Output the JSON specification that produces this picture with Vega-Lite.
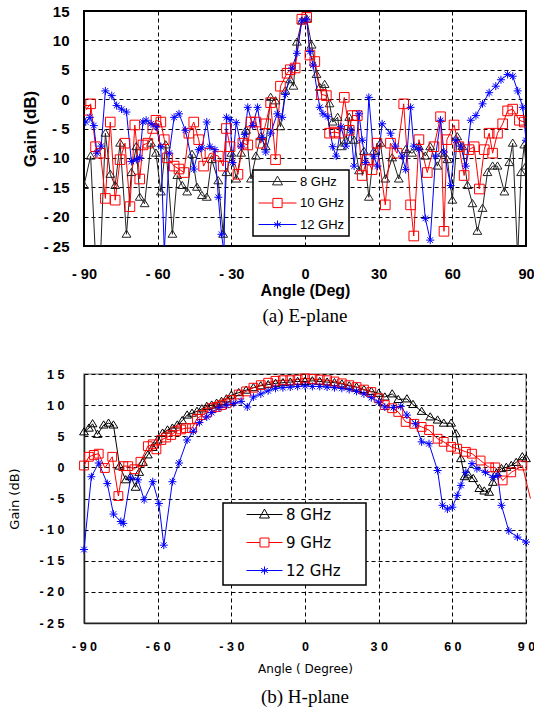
{
"$schema": "https://vega.github.io/schema/vega-lite/v6.json",
"background": "white",
"padding": {"left": 8, "top": 3, "right": 0, "bottom": 2},
"spacing": 40,
"resolve": {"scale": {"color": "independent"}, "legend": {"color": "independent"}},
"config": {
  "font": "Liberation Sans",
  "axis": {"ticks": false, "domain": false, "grid": true, "gridColor": "#000", "gridOpacity": 1, "gridDash": [4, 3], "gridWidth": 1, "labelColor": "#000", "titleColor": "#000", "labelOverlap": false, "labelFlush": false, "labelBound": false}
},
"datasets": {
"e": [
{"series":"8 GHz","angle":-90,"gain":-14.7},{"series":"8 GHz","angle":-87.3,"gain":-9.7},{"series":"8 GHz","angle":-85.3,"gain":-27},{"series":"8 GHz","angle":-83.3,"gain":-27},{"series":"8 GHz","angle":-81.3,"gain":-5.8},{"series":"8 GHz","angle":-79.3,"gain":-12.8},{"series":"8 GHz","angle":-77.3,"gain":-14.7},{"series":"8 GHz","angle":-75.3,"gain":-7.5},{"series":"8 GHz","angle":-72.7,"gain":-23},{"series":"8 GHz","angle":-70.7,"gain":-12.5},{"series":"8 GHz","angle":-68.7,"gain":-8.1},{"series":"8 GHz","angle":-67.3,"gain":-16.7},{"series":"8 GHz","angle":-65.3,"gain":-17.8},{"series":"8 GHz","angle":-62.7,"gain":-7.5},{"series":"8 GHz","angle":-60.7,"gain":-9.2},{"series":"8 GHz","angle":-58.7,"gain":-15.8},{"series":"8 GHz","angle":-56.7,"gain":-7.8},{"series":"8 GHz","angle":-54,"gain":-23},{"series":"8 GHz","angle":-52,"gain":-13},{"series":"8 GHz","angle":-50,"gain":-14.7},{"series":"8 GHz","angle":-48,"gain":-15.8},{"series":"8 GHz","angle":-46,"gain":-9.4},{"series":"8 GHz","angle":-44,"gain":-15},{"series":"8 GHz","angle":-42,"gain":-16.4},{"series":"8 GHz","angle":-40,"gain":-16.7},{"series":"8 GHz","angle":-38,"gain":-10.3},{"series":"8 GHz","angle":-35.3,"gain":-13.9},{"series":"8 GHz","angle":-33.3,"gain":-23},{"series":"8 GHz","angle":-32,"gain":-12.5},
{"series":"8 GHz","angle":-30,"gain":-9.2},{"series":"8 GHz","angle":-28,"gain":-13.6},{"series":"8 GHz","angle":-26,"gain":-9.2},{"series":"8 GHz","angle":-24,"gain":-5.3},{"series":"8 GHz","angle":-22,"gain":-13.6},{"series":"8 GHz","angle":-20,"gain":-9.7},{"series":"8 GHz","angle":-18,"gain":-6.4},{"series":"8 GHz","angle":-16,"gain":-8.1},{"series":"8 GHz","angle":-14,"gain":0.3},{"series":"8 GHz","angle":-12,"gain":-0.3},{"series":"8 GHz","angle":-10,"gain":-4.7},{"series":"8 GHz","angle":-8,"gain":1.4},{"series":"8 GHz","angle":-6,"gain":3.3},{"series":"8 GHz","angle":-4.7,"gain":2.2},{"series":"8 GHz","angle":-3.3,"gain":9.7},{"series":"8 GHz","angle":-1.3,"gain":13.3},{"series":"8 GHz","angle":0.7,"gain":13.6},{"series":"8 GHz","angle":2.7,"gain":9.2},{"series":"8 GHz","angle":4.7,"gain":4.2},{"series":"8 GHz","angle":6,"gain":2},{"series":"8 GHz","angle":8,"gain":2.5},{"series":"8 GHz","angle":10,"gain":-0.8},{"series":"8 GHz","angle":11.3,"gain":-3.9},{"series":"8 GHz","angle":13.3,"gain":-3.1},{"series":"8 GHz","angle":14.7,"gain":-8.1},{"series":"8 GHz","angle":16.7,"gain":-7},{"series":"8 GHz","angle":18,"gain":-3.1},{"series":"8 GHz","angle":20,"gain":-7},{"series":"8 GHz","angle":22,"gain":-12.2},{"series":"8 GHz","angle":24,"gain":-8.9},{"series":"8 GHz","angle":26,"gain":-16.7},{"series":"8 GHz","angle":28,"gain":-8.9},
{"series":"8 GHz","angle":30.7,"gain":-7.5},{"series":"8 GHz","angle":32.7,"gain":-13.6},{"series":"8 GHz","angle":35.5,"gain":-10},{"series":"8 GHz","angle":38.2,"gain":-13.6},{"series":"8 GHz","angle":41,"gain":-8.6},{"series":"8 GHz","angle":43.6,"gain":-9.2},{"series":"8 GHz","angle":46.4,"gain":-8.1},{"series":"8 GHz","angle":49,"gain":-9.7},{"series":"8 GHz","angle":51,"gain":-8.1},{"series":"8 GHz","angle":53.9,"gain":-11.4},{"series":"8 GHz","angle":55.9,"gain":-9.2},{"series":"8 GHz","angle":58,"gain":-10.3},{"series":"8 GHz","angle":60,"gain":-17.2},{"series":"8 GHz","angle":62,"gain":-6.4},{"series":"8 GHz","angle":64.1,"gain":-8.1},{"series":"8 GHz","angle":66.2,"gain":-14.7},{"series":"8 GHz","angle":68.2,"gain":-17.8},{"series":"8 GHz","angle":70.2,"gain":-22.5},{"series":"8 GHz","angle":72.3,"gain":-18.6},{"series":"8 GHz","angle":74.3,"gain":-12.5},{"series":"8 GHz","angle":76.4,"gain":-11.4},{"series":"8 GHz","angle":78.4,"gain":-11.4},{"series":"8 GHz","angle":81.2,"gain":-15.8},{"series":"8 GHz","angle":83.2,"gain":-10.8},{"series":"8 GHz","angle":84.6,"gain":-7.5},{"series":"8 GHz","angle":86.6,"gain":-27},{"series":"8 GHz","angle":88,"gain":-12.5},{"series":"8 GHz","angle":89.3,"gain":-7.8},{"series":"8 GHz","angle":90,"gain":-11.4},
{"series":"10 GHz","angle":-89.3,"gain":-1.9},{"series":"10 GHz","angle":-87.3,"gain":-0.8},{"series":"10 GHz","angle":-85.3,"gain":-8.1},{"series":"10 GHz","angle":-83.3,"gain":-9.2},{"series":"10 GHz","angle":-81.3,"gain":-16.9},{"series":"10 GHz","angle":-79.3,"gain":-3.9},{"series":"10 GHz","angle":-77.3,"gain":-17.2},{"series":"10 GHz","angle":-75.3,"gain":-10.3},{"series":"10 GHz","angle":-73.3,"gain":-7.5},{"series":"10 GHz","angle":-71.3,"gain":-18.3},{"series":"10 GHz","angle":-69.3,"gain":-4.4},{"series":"10 GHz","angle":-67.3,"gain":-13.6},{"series":"10 GHz","angle":-66,"gain":-7.8},{"series":"10 GHz","angle":-64,"gain":-7.5},{"series":"10 GHz","angle":-62,"gain":-5},{"series":"10 GHz","angle":-60.7,"gain":-3.6},{"series":"10 GHz","angle":-58.7,"gain":-3.9},{"series":"10 GHz","angle":-57.3,"gain":-6.9},{"series":"10 GHz","angle":-56,"gain":-10},{"series":"10 GHz","angle":-53.3,"gain":-11.4},{"series":"10 GHz","angle":-51.3,"gain":-11.9},{"series":"10 GHz","angle":-49.3,"gain":-12.5},{"series":"10 GHz","angle":-47.3,"gain":-5.8},{"series":"10 GHz","angle":-45.3,"gain":-3.9},{"series":"10 GHz","angle":-43.3,"gain":-6.9},{"series":"10 GHz","angle":-41.3,"gain":-11.4},{"series":"10 GHz","angle":-38.7,"gain":-9.2},{"series":"10 GHz","angle":-35.3,"gain":-9.7},{"series":"10 GHz","angle":-33.3,"gain":-11.4},{"series":"10 GHz","angle":-32,"gain":-5},
{"series":"10 GHz","angle":-30.5,"gain":-8.1},{"series":"10 GHz","angle":-27.3,"gain":-12.8},{"series":"10 GHz","angle":-25.3,"gain":-7.5},{"series":"10 GHz","angle":-23.3,"gain":-7.8},{"series":"10 GHz","angle":-22,"gain":-3.9},{"series":"10 GHz","angle":-20,"gain":-3.9},{"series":"10 GHz","angle":-18,"gain":-7.5},{"series":"10 GHz","angle":-16,"gain":-4.2},{"series":"10 GHz","angle":-14,"gain":-0.6},{"series":"10 GHz","angle":-12,"gain":-10.3},{"series":"10 GHz","angle":-10,"gain":2.2},{"series":"10 GHz","angle":-7.3,"gain":4.4},{"series":"10 GHz","angle":-6,"gain":5},{"series":"10 GHz","angle":-4,"gain":5.3},{"series":"10 GHz","angle":-1.3,"gain":13.6},{"series":"10 GHz","angle":0.7,"gain":13.9},{"series":"10 GHz","angle":2,"gain":7.5},{"series":"10 GHz","angle":4,"gain":6.4},{"series":"10 GHz","angle":6.7,"gain":0.8},{"series":"10 GHz","angle":8.7,"gain":0.6},{"series":"10 GHz","angle":10,"gain":-5.8},{"series":"10 GHz","angle":12,"gain":-5.6},{"series":"10 GHz","angle":14,"gain":-5.8},{"series":"10 GHz","angle":16,"gain":0.3},{"series":"10 GHz","angle":18,"gain":-5.3},{"series":"10 GHz","angle":19.3,"gain":-2.8},{"series":"10 GHz","angle":21.3,"gain":-2.8},{"series":"10 GHz","angle":23.3,"gain":-13},{"series":"10 GHz","angle":25.3,"gain":-10.3},{"series":"10 GHz","angle":27.3,"gain":-12},
{"series":"10 GHz","angle":29.3,"gain":-7.5},{"series":"10 GHz","angle":32.7,"gain":-18},{"series":"10 GHz","angle":34.8,"gain":-7.5},{"series":"10 GHz","angle":37.5,"gain":-9.2},{"series":"10 GHz","angle":40.2,"gain":-0.8},{"series":"10 GHz","angle":43,"gain":-18},{"series":"10 GHz","angle":44.3,"gain":-23.3},{"series":"10 GHz","angle":46.4,"gain":-6.9},{"series":"10 GHz","angle":49.8,"gain":-12.5},{"series":"10 GHz","angle":52.5,"gain":-8.1},{"series":"10 GHz","angle":55.2,"gain":-3},{"series":"10 GHz","angle":56.6,"gain":-22.5},{"series":"10 GHz","angle":57.8,"gain":-6.9},{"series":"10 GHz","angle":60.7,"gain":-4.4},{"series":"10 GHz","angle":62.7,"gain":-8.1},{"series":"10 GHz","angle":64.8,"gain":-13},{"series":"10 GHz","angle":66.8,"gain":-8.6},{"series":"10 GHz","angle":68.9,"gain":-8.1},{"series":"10 GHz","angle":71,"gain":-15.3},{"series":"10 GHz","angle":73,"gain":-8.6},{"series":"10 GHz","angle":75,"gain":-5.8},{"series":"10 GHz","angle":76.4,"gain":-9.2},{"series":"10 GHz","angle":78.4,"gain":-5.8},{"series":"10 GHz","angle":80.5,"gain":-4.2},{"series":"10 GHz","angle":82.5,"gain":-2},{"series":"10 GHz","angle":84.6,"gain":-1.7},{"series":"10 GHz","angle":87.3,"gain":-3.6},{"series":"10 GHz","angle":89.3,"gain":-3.9},
{"series":"12 GHz","angle":-89.3,"gain":-3.9},{"series":"12 GHz","angle":-87.6,"gain":-3.1},{"series":"12 GHz","angle":-86,"gain":-4.5},{"series":"12 GHz","angle":-84.7,"gain":-9.2},{"series":"12 GHz","angle":-83,"gain":-8},{"series":"12 GHz","angle":-81.3,"gain":1.4},{"series":"12 GHz","angle":-78.7,"gain":0.6},{"series":"12 GHz","angle":-76.7,"gain":-1.1},{"series":"12 GHz","angle":-74.7,"gain":-1.7},{"series":"12 GHz","angle":-72.7,"gain":-2.2},{"series":"12 GHz","angle":-70.7,"gain":-10.6},{"series":"12 GHz","angle":-68.7,"gain":-10.3},{"series":"12 GHz","angle":-67.3,"gain":-10},{"series":"12 GHz","angle":-66,"gain":-3.9},{"series":"12 GHz","angle":-64.7,"gain":-3.6},{"series":"12 GHz","angle":-62.7,"gain":-4.2},{"series":"12 GHz","angle":-60.7,"gain":-4.7},{"series":"12 GHz","angle":-58.7,"gain":-8.1},{"series":"12 GHz","angle":-57.3,"gain":-26},{"series":"12 GHz","angle":-55.3,"gain":-9.2},{"series":"12 GHz","angle":-53.3,"gain":-3.1},{"series":"12 GHz","angle":-51.3,"gain":-2.5},{"series":"12 GHz","angle":-48.7,"gain":-5.3},{"series":"12 GHz","angle":-45.3,"gain":-11.9},{"series":"12 GHz","angle":-43.3,"gain":-8.6},{"series":"12 GHz","angle":-42,"gain":-8.3},{"series":"12 GHz","angle":-40,"gain":-3.9},{"series":"12 GHz","angle":-38.7,"gain":-8.1},{"series":"12 GHz","angle":-36.7,"gain":-8.6},{"series":"12 GHz","angle":-35.3,"gain":-16.7},{"series":"12 GHz","angle":-34,"gain":-23},{"series":"12 GHz","angle":-33,"gain":-26},{"series":"12 GHz","angle":-32,"gain":-3.1},
{"series":"12 GHz","angle":-30.5,"gain":-3.5},{"series":"12 GHz","angle":-29.5,"gain":-10.8},{"series":"12 GHz","angle":-28,"gain":-4},{"series":"12 GHz","angle":-26,"gain":-8},{"series":"12 GHz","angle":-24.5,"gain":-6},{"series":"12 GHz","angle":-23.3,"gain":-1.4},{"series":"12 GHz","angle":-21.3,"gain":-4.5},{"series":"12 GHz","angle":-19.3,"gain":-1.4},{"series":"12 GHz","angle":-17.5,"gain":-6.5},{"series":"12 GHz","angle":-16,"gain":-9},{"series":"12 GHz","angle":-14,"gain":-5.8},{"series":"12 GHz","angle":-11.3,"gain":-2.5},{"series":"12 GHz","angle":-9.3,"gain":-3.1},{"series":"12 GHz","angle":-8,"gain":0.8},{"series":"12 GHz","angle":-5.3,"gain":5.3},{"series":"12 GHz","angle":-3.3,"gain":7.8},{"series":"12 GHz","angle":-1.3,"gain":13.3},{"series":"12 GHz","angle":0.7,"gain":13.6},{"series":"12 GHz","angle":2,"gain":8.1},{"series":"12 GHz","angle":3.3,"gain":5.8},{"series":"12 GHz","angle":6,"gain":-1.4},{"series":"12 GHz","angle":7.3,"gain":-2.5},{"series":"12 GHz","angle":9.3,"gain":-3},{"series":"12 GHz","angle":11.3,"gain":-8.1},{"series":"12 GHz","angle":12.7,"gain":-9.7},{"series":"12 GHz","angle":14.7,"gain":-4.7},{"series":"12 GHz","angle":16.7,"gain":-8},{"series":"12 GHz","angle":18.7,"gain":-5.3},{"series":"12 GHz","angle":20,"gain":-11.4},{"series":"12 GHz","angle":22,"gain":-2.5},{"series":"12 GHz","angle":23.3,"gain":-7},{"series":"12 GHz","angle":24.7,"gain":-10.8},{"series":"12 GHz","angle":26,"gain":0.3},{"series":"12 GHz","angle":28,"gain":-9.7},
{"series":"12 GHz","angle":29.5,"gain":-11.4},{"series":"12 GHz","angle":31.4,"gain":-4.2},{"series":"12 GHz","angle":34.8,"gain":-5.8},{"series":"12 GHz","angle":36.8,"gain":-8},{"series":"12 GHz","angle":39.5,"gain":-9.7},{"series":"12 GHz","angle":41,"gain":-12},{"series":"12 GHz","angle":43,"gain":-1.4},{"series":"12 GHz","angle":44.3,"gain":-8},{"series":"12 GHz","angle":46.4,"gain":-8.5},{"series":"12 GHz","angle":49,"gain":-20.3},{"series":"12 GHz","angle":51,"gain":-24},{"series":"12 GHz","angle":53.2,"gain":-9.7},{"series":"12 GHz","angle":55.2,"gain":-3.6},{"series":"12 GHz","angle":56.6,"gain":-9},{"series":"12 GHz","angle":59.3,"gain":-14.7},{"series":"12 GHz","angle":61.4,"gain":-7},{"series":"12 GHz","angle":63.4,"gain":-8},{"series":"12 GHz","angle":65.5,"gain":-11.4},{"series":"12 GHz","angle":67.5,"gain":-3.6},{"series":"12 GHz","angle":69.6,"gain":-2.8},{"series":"12 GHz","angle":72.3,"gain":-0.8},{"series":"12 GHz","angle":75,"gain":1.1},{"series":"12 GHz","angle":77.7,"gain":2.2},{"series":"12 GHz","angle":79.8,"gain":3.3},{"series":"12 GHz","angle":82.5,"gain":4.2},{"series":"12 GHz","angle":84.6,"gain":3.9},{"series":"12 GHz","angle":86.6,"gain":1.4},{"series":"12 GHz","angle":88.7,"gain":-1.4},{"series":"12 GHz","angle":90,"gain":-7}
],
"h": [
{"series":"8 GHz","angle":-90,"gain":5.7},{"series":"8 GHz","angle":-88,"gain":6.3},{"series":"8 GHz","angle":-86.5,"gain":7},{"series":"8 GHz","angle":-84.5,"gain":5.3},{"series":"8 GHz","angle":-82,"gain":6.8},{"series":"8 GHz","angle":-80,"gain":7.1},{"series":"8 GHz","angle":-78,"gain":6.8},{"series":"8 GHz","angle":-75.5,"gain":0.2},{"series":"8 GHz","angle":-73,"gain":-2},{"series":"8 GHz","angle":-71,"gain":-1.5},{"series":"8 GHz","angle":-69,"gain":-3.2},{"series":"8 GHz","angle":-67.5,"gain":-0.8},{"series":"8 GHz","angle":-66,"gain":0.8},{"series":"8 GHz","angle":-64,"gain":2},{"series":"8 GHz","angle":-62,"gain":3.2},{"series":"8 GHz","angle":-60,"gain":4.4},{"series":"8 GHz","angle":-58,"gain":5.5},{"series":"8 GHz","angle":-56,"gain":6},{"series":"8 GHz","angle":-54,"gain":6.3},{"series":"8 GHz","angle":-52,"gain":6.8},{"series":"8 GHz","angle":-50,"gain":7.5},{"series":"8 GHz","angle":-48,"gain":8.4},{"series":"8 GHz","angle":-46,"gain":8.7},{"series":"8 GHz","angle":-44,"gain":9},{"series":"8 GHz","angle":-42,"gain":9.4},{"series":"8 GHz","angle":-40,"gain":9.8},{"series":"8 GHz","angle":-38,"gain":10},{"series":"8 GHz","angle":-36,"gain":10.3},{"series":"8 GHz","angle":-34,"gain":10.6},{"series":"8 GHz","angle":-32,"gain":11},{"series":"8 GHz","angle":-30,"gain":11.6},{"series":"8 GHz","angle":-27,"gain":12},{"series":"8 GHz","angle":-24,"gain":12.4},{"series":"8 GHz","angle":-21,"gain":12.8},{"series":"8 GHz","angle":-18,"gain":13.1},{"series":"8 GHz","angle":-15,"gain":13.3},{"series":"8 GHz","angle":-12,"gain":13.5},{"series":"8 GHz","angle":-9,"gain":13.6},{"series":"8 GHz","angle":-6,"gain":13.7},{"series":"8 GHz","angle":-3,"gain":13.8},{"series":"8 GHz","angle":0,"gain":13.8},{"series":"8 GHz","angle":3,"gain":13.9},{"series":"8 GHz","angle":6,"gain":13.8},{"series":"8 GHz","angle":9,"gain":13.7},{"series":"8 GHz","angle":12,"gain":13.6},{"series":"8 GHz","angle":15,"gain":13.4},{"series":"8 GHz","angle":18,"gain":13.1},{"series":"8 GHz","angle":21,"gain":12.9},{"series":"8 GHz","angle":24,"gain":12.5},{"series":"8 GHz","angle":27,"gain":12.2},{"series":"8 GHz","angle":30,"gain":11.9},{"series":"8 GHz","angle":32.5,"gain":11.3},{"series":"8 GHz","angle":35.5,"gain":11.8},{"series":"8 GHz","angle":38,"gain":10.9},{"series":"8 GHz","angle":41.5,"gain":11},{"series":"8 GHz","angle":44,"gain":10.1},{"series":"8 GHz","angle":47.5,"gain":9},{"series":"8 GHz","angle":51,"gain":8.1},{"series":"8 GHz","angle":54,"gain":7.6},{"series":"8 GHz","angle":56.5,"gain":7.1},{"series":"8 GHz","angle":59.5,"gain":7.1},{"series":"8 GHz","angle":61.5,"gain":5.4},{"series":"8 GHz","angle":63.5,"gain":1.4},{"series":"8 GHz","angle":65,"gain":-1.5},{"series":"8 GHz","angle":66.5,"gain":-1.2},{"series":"8 GHz","angle":68.5,"gain":-1.8},{"series":"8 GHz","angle":71,"gain":-3.4},{"series":"8 GHz","angle":73,"gain":-3.8},{"series":"8 GHz","angle":75,"gain":-4},{"series":"8 GHz","angle":76.5,"gain":-2.4},{"series":"8 GHz","angle":78,"gain":-0.9},{"series":"8 GHz","angle":80,"gain":-0.2},{"series":"8 GHz","angle":82,"gain":0},{"series":"8 GHz","angle":84,"gain":0.3},{"series":"8 GHz","angle":86,"gain":0.8},{"series":"8 GHz","angle":88.5,"gain":1.7},{"series":"8 GHz","angle":90,"gain":1.4},
{"series":"9 GHz","angle":-90,"gain":0.3},{"series":"9 GHz","angle":-88,"gain":1.7},{"series":"9 GHz","angle":-86,"gain":2},{"series":"9 GHz","angle":-84,"gain":2.2},{"series":"9 GHz","angle":-81.5,"gain":-0.1},{"series":"9 GHz","angle":-78.5,"gain":1.7},{"series":"9 GHz","angle":-76,"gain":-4.6},{"series":"9 GHz","angle":-74,"gain":0.2},{"series":"9 GHz","angle":-72,"gain":0.2},{"series":"9 GHz","angle":-69.5,"gain":-0.3},{"series":"9 GHz","angle":-67,"gain":0.9},{"series":"9 GHz","angle":-64,"gain":3.4},{"series":"9 GHz","angle":-62,"gain":3.7},{"series":"9 GHz","angle":-60.5,"gain":2.9},{"series":"9 GHz","angle":-58.5,"gain":4.4},{"series":"9 GHz","angle":-56.5,"gain":4.8},{"series":"9 GHz","angle":-54.5,"gain":5.2},{"series":"9 GHz","angle":-52.5,"gain":5.8},{"series":"9 GHz","angle":-50.5,"gain":6.1},{"series":"9 GHz","angle":-48.5,"gain":6.3},{"series":"9 GHz","angle":-46,"gain":6.3},{"series":"9 GHz","angle":-44,"gain":7.8},{"series":"9 GHz","angle":-42,"gain":8.4},{"series":"9 GHz","angle":-40,"gain":8.8},{"series":"9 GHz","angle":-38,"gain":9.5},{"series":"9 GHz","angle":-36,"gain":9.7},{"series":"9 GHz","angle":-34,"gain":10},{"series":"9 GHz","angle":-32,"gain":10.3},{"series":"9 GHz","angle":-30,"gain":10.8},{"series":"9 GHz","angle":-27,"gain":11.7},{"series":"9 GHz","angle":-24,"gain":12.2},{"series":"9 GHz","angle":-21,"gain":12.8},{"series":"9 GHz","angle":-18,"gain":13.2},{"series":"9 GHz","angle":-15,"gain":13.6},{"series":"9 GHz","angle":-12,"gain":13.9},{"series":"9 GHz","angle":-9,"gain":14},{"series":"9 GHz","angle":-6,"gain":14},{"series":"9 GHz","angle":-3,"gain":14.1},{"series":"9 GHz","angle":0,"gain":14.3},{"series":"9 GHz","angle":3,"gain":14.2},{"series":"9 GHz","angle":6,"gain":14.1},{"series":"9 GHz","angle":9,"gain":14},{"series":"9 GHz","angle":12,"gain":13.8},{"series":"9 GHz","angle":15,"gain":13.5},{"series":"9 GHz","angle":18,"gain":13.2},{"series":"9 GHz","angle":21,"gain":12.9},{"series":"9 GHz","angle":24,"gain":12.5},{"series":"9 GHz","angle":27,"gain":12.1},{"series":"9 GHz","angle":30,"gain":11.1},{"series":"9 GHz","angle":32.5,"gain":10},{"series":"9 GHz","angle":35.5,"gain":9.5},{"series":"9 GHz","angle":38,"gain":8.9},{"series":"9 GHz","angle":41,"gain":7.3},{"series":"9 GHz","angle":44.5,"gain":7},{"series":"9 GHz","angle":47.5,"gain":6.5},{"series":"9 GHz","angle":50.5,"gain":6},{"series":"9 GHz","angle":54,"gain":4.6},{"series":"9 GHz","angle":56.5,"gain":4.1},{"series":"9 GHz","angle":59.5,"gain":3.3},{"series":"9 GHz","angle":62,"gain":3},{"series":"9 GHz","angle":65.5,"gain":2.5},{"series":"9 GHz","angle":68,"gain":2.2},{"series":"9 GHz","angle":71.5,"gain":1.1},{"series":"9 GHz","angle":75,"gain":0},{"series":"9 GHz","angle":77.5,"gain":0},{"series":"9 GHz","angle":80.5,"gain":-2.1},{"series":"9 GHz","angle":84,"gain":-0.8},{"series":"9 GHz","angle":88.5,"gain":0.3},{"series":"9 GHz","angle":91.8,"gain":-5},
{"series":"12 GHz","angle":-90,"gain":-13.2},{"series":"12 GHz","angle":-87,"gain":-1.5},{"series":"12 GHz","angle":-84,"gain":0.7},{"series":"12 GHz","angle":-80.5,"gain":-2.6},{"series":"12 GHz","angle":-78,"gain":-7.5},{"series":"12 GHz","angle":-75,"gain":-8.7},{"series":"12 GHz","angle":-74,"gain":-9},{"series":"12 GHz","angle":-71,"gain":-1.7},{"series":"12 GHz","angle":-68,"gain":-2},{"series":"12 GHz","angle":-65.5,"gain":-5.2},{"series":"12 GHz","angle":-62,"gain":-2.3},{"series":"12 GHz","angle":-59.5,"gain":-5.8},{"series":"12 GHz","angle":-57.5,"gain":-12.5},{"series":"12 GHz","angle":-54,"gain":-2.3},{"series":"12 GHz","angle":-51.3,"gain":0.7},{"series":"12 GHz","angle":-48,"gain":4.4},{"series":"12 GHz","angle":-45.5,"gain":5.8},{"series":"12 GHz","angle":-43,"gain":7.2},{"series":"12 GHz","angle":-40,"gain":8.1},{"series":"12 GHz","angle":-38,"gain":8.8},{"series":"12 GHz","angle":-35,"gain":9.6},{"series":"12 GHz","angle":-32,"gain":10},{"series":"12 GHz","angle":-29,"gain":10.3},{"series":"12 GHz","angle":-26,"gain":10.6},{"series":"12 GHz","angle":-23.5,"gain":9.7},{"series":"12 GHz","angle":-21,"gain":11.3},{"series":"12 GHz","angle":-18,"gain":11.8},{"series":"12 GHz","angle":-15,"gain":12.3},{"series":"12 GHz","angle":-12,"gain":12.7},{"series":"12 GHz","angle":-9,"gain":12.8},{"series":"12 GHz","angle":-6,"gain":12.9},{"series":"12 GHz","angle":-3,"gain":13},{"series":"12 GHz","angle":0,"gain":13.1},{"series":"12 GHz","angle":3,"gain":13},{"series":"12 GHz","angle":6,"gain":13},{"series":"12 GHz","angle":9,"gain":12.9},{"series":"12 GHz","angle":12,"gain":12.8},{"series":"12 GHz","angle":15,"gain":12.7},{"series":"12 GHz","angle":18,"gain":12.5},{"series":"12 GHz","angle":21,"gain":12.2},{"series":"12 GHz","angle":24,"gain":11.8},{"series":"12 GHz","angle":27,"gain":11.2},{"series":"12 GHz","angle":30,"gain":10.5},{"series":"12 GHz","angle":32.5,"gain":9.7},{"series":"12 GHz","angle":36,"gain":9.6},{"series":"12 GHz","angle":39,"gain":9.8},{"series":"12 GHz","angle":41.5,"gain":8.4},{"series":"12 GHz","angle":45,"gain":7},{"series":"12 GHz","angle":47.5,"gain":4.1},{"series":"12 GHz","angle":50.5,"gain":3.8},{"series":"12 GHz","angle":54,"gain":-0.5},{"series":"12 GHz","angle":56,"gain":-6.1},{"series":"12 GHz","angle":58,"gain":-6.7},{"series":"12 GHz","angle":60,"gain":-6.4},{"series":"12 GHz","angle":62,"gain":-4.5},{"series":"12 GHz","angle":63.5,"gain":-2.9},{"series":"12 GHz","angle":65.5,"gain":-0.8},{"series":"12 GHz","angle":68,"gain":0.6},{"series":"12 GHz","angle":70,"gain":-0.2},{"series":"12 GHz","angle":73.5,"gain":-0.8},{"series":"12 GHz","angle":76.5,"gain":-1.6},{"series":"12 GHz","angle":78.5,"gain":-1.3},{"series":"12 GHz","angle":80,"gain":-6.1},{"series":"12 GHz","angle":83,"gain":-10.2},{"series":"12 GHz","angle":86.5,"gain":-11.2},{"series":"12 GHz","angle":90,"gain":-12}
]
},
"vconcat": [
{
  "width": 442, "height": 235,
  "data": {"name": "e"},
  "view": {"stroke": "#000", "strokeWidth": 2},
  "title": {"text": "(a) E-plane", "orient": "bottom", "anchor": "middle", "font": "Liberation Serif", "fontSize": 19, "fontWeight": "normal", "color": "#000", "offset": 8},
  "encoding": {
    "x": {"field": "angle", "type": "quantitative", "scale": {"domain": [-90, 90], "nice": false, "zero": false},
      "axis": {"values": [-90, -60, -30, 0, 30, 60, 90], "labelExpr": "(datum.value < 0 ? '- ' : '') + abs(datum.value)", "labelFont": "Liberation Sans", "labelFontWeight": "bold", "labelFontSize": 14.5, "labelPadding": 21, "title": "Angle (Deg)", "titleFont": "Liberation Sans", "titleFontWeight": "bold", "titleFontSize": 16, "titlePadding": 2}},
    "y": {"field": "gain", "type": "quantitative", "scale": {"domain": [-25, 15], "nice": false, "zero": false},
      "axis": {"values": [-25, -20, -15, -10, -5, 0, 5, 10, 15], "labelExpr": "(datum.value < 0 ? '- ' : '') + abs(datum.value)", "labelFont": "Liberation Sans", "labelFontWeight": "bold", "labelFontSize": 15, "labelPadding": 15, "title": "Gain (dB)", "titleFont": "Liberation Sans", "titleFontWeight": "bold", "titleFontSize": 17, "titlePadding": 4}},
    "color": {"field": "series", "type": "nominal", "scale": {"domain": ["8 GHz", "10 GHz", "12 GHz"], "range": ["#222222", "#ff0000", "#0000ff"]},
      "legend": {"orient": "none", "legendX": 169, "legendY": 159, "title": null, "padding": 4, "symbolSize": 1600, "clipHeight": 15, "rowPadding": 6.5, "labelOffset": 2, "labelFont": "Liberation Sans", "labelFontSize": 13, "labelColor": "#000", "strokeColor": "#000", "fillColor": "#fff", "symbolStrokeWidth": 1,
        "encode": {"legend": {"update": {"strokeWidth": {"value": 1.5}}}, "symbols": {"update": {"fill": {"value": "transparent"}, "opacity": {"value": 1}, "shape": {"signal": "datum.value === '8 GHz' ? 'M-0.95,0L0.95,0M0,-0.27L0.25,0.17L-0.25,0.17Z' : datum.value === '10 GHz' ? 'M-0.95,0L-0.23,0M0.23,0L0.95,0M-0.23,-0.23L0.23,-0.23L0.23,0.23L-0.23,0.23Z' : 'M-0.95,0L0.95,0M0,-0.2L0,0.2M-0.17,-0.1L0.17,0.1M-0.17,0.1L0.17,-0.1'"}}}}}}
  },
  "layer": [
    {"mark": {"type": "line", "strokeWidth": 1, "clip": true}},
    {"transform": [{"filter": "datum.series === '8 GHz'"}], "mark": {"type": "point", "shape": "M0,-1.05L1.1,0.75L-1.1,0.75Z", "filled": false, "strokeWidth": 1, "size": 64, "opacity": 1, "clip": true}},
    {"transform": [{"filter": "datum.series === '10 GHz'"}], "mark": {"type": "point", "shape": "M-1.2,-1.2L1.2,-1.2L1.2,1.2L-1.2,1.2Z", "filled": false, "strokeWidth": 1, "size": 64, "opacity": 1, "clip": true}},
    {"transform": [{"filter": "datum.series === '12 GHz'"}], "mark": {"type": "point", "shape": "M-1,0L1,0M0,-1L0,1M-0.7,-0.7L0.7,0.7M-0.7,0.7L0.7,-0.7", "filled": false, "strokeWidth": 1, "size": 64, "opacity": 1, "clip": true}}
  ]
},
{
  "width": 442, "height": 249,
  "data": {"name": "h"},
  "view": {"stroke": "#999999", "strokeWidth": 1.5},
  "title": {"text": "(b) H-plane", "orient": "bottom", "anchor": "middle", "font": "Liberation Serif", "fontSize": 19, "fontWeight": "normal", "color": "#000", "offset": 13},
  "encoding": {
    "x": {"field": "angle", "type": "quantitative", "scale": {"domain": [-90, 90], "nice": false, "zero": false},
      "axis": {"values": [-90, -60, -30, 0, 30, 60, 90], "labelExpr": "(datum.value < 0 ? '- ' : '') + replace('' + abs(datum.value), regexp('([0-9])(?=[0-9])', 'g'), '$1 ')", "labelFont": "Liberation Sans", "labelFontWeight": "bold", "labelFontSize": 12.5, "labelPadding": 17, "domain": true, "domainColor": "#222", "domainWidth": 1.5, "title": "Angle ( Degree)", "titleFont": "DejaVu Sans", "titleFontWeight": "normal", "titleFontSize": 12, "titlePadding": 11}},
    "y": {"field": "gain", "type": "quantitative", "scale": {"domain": [-25, 15], "nice": false, "zero": false},
      "axis": {"values": [-25, -20, -15, -10, -5, 0, 5, 10, 15], "labelExpr": "(datum.value < 0 ? '- ' : '') + replace('' + abs(datum.value), regexp('([0-9])(?=[0-9])', 'g'), '$1 ')", "labelFont": "Liberation Sans", "labelFontWeight": "bold", "labelFontSize": 12.5, "labelPadding": 20, "domain": true, "domainColor": "#222", "domainWidth": 1.5, "title": "Gain (dB)", "titleFont": "DejaVu Sans", "titleFontWeight": "normal", "titleFontSize": 13, "titlePadding": 17}},
    "color": {"field": "series", "type": "nominal", "scale": {"domain": ["8 GHz", "9 GHz", "12 GHz"], "range": ["#000000", "#ff0000", "#0000ff"]},
      "legend": {"orient": "none", "legendX": 139, "legendY": 129, "title": "\u00a0", "titleOrient": "right", "titlePadding": 19, "titleFontSize": 4, "padding": 6, "symbolSize": 2916, "clipHeight": 11, "rowPadding": 12, "labelOffset": 2, "labelFont": "DejaVu Sans", "labelFontSize": 15, "labelColor": "#000", "strokeColor": "#000", "fillColor": "#fff", "symbolStrokeWidth": 1,
        "encode": {"legend": {"update": {"strokeWidth": {"value": 1.5}}}, "symbols": {"update": {"fill": {"value": "transparent"}, "opacity": {"value": 1}, "shape": {"signal": "datum.value === '8 GHz' ? 'M-0.37,0L0.963,0M0.296,-0.2L0.48,0.13L0.11,0.13Z' : datum.value === '9 GHz' ? 'M-0.37,0L0.13,0M0.462,0L0.963,0M0.13,-0.166L0.462,-0.166L0.462,0.166L0.13,0.166Z' : 'M-0.37,0L0.963,0M0.296,-0.15L0.296,0.15M0.17,-0.08L0.42,0.08M0.17,0.08L0.42,-0.08'"}}}}}}
  },
  "layer": [
    {"mark": {"type": "line", "strokeWidth": 1, "clip": false}},
    {"transform": [{"filter": "datum.series === '8 GHz'"}], "mark": {"type": "point", "shape": "M0,-1.05L1.1,0.75L-1.1,0.75Z", "filled": false, "strokeWidth": 1, "size": 64, "opacity": 1}},
    {"transform": [{"filter": "datum.series === '9 GHz' && datum.angle <= 90"}], "mark": {"type": "point", "shape": "M-1.1,-1.1L1.1,-1.1L1.1,1.1L-1.1,1.1Z", "filled": false, "strokeWidth": 1, "size": 64, "opacity": 1}},
    {"transform": [{"filter": "datum.series === '12 GHz'"}], "mark": {"type": "point", "shape": "M-1,0L1,0M0,-1L0,1M-0.7,-0.7L0.7,0.7M-0.7,0.7L0.7,-0.7", "filled": false, "strokeWidth": 1, "size": 64, "opacity": 1}}
  ]
}
]
}
